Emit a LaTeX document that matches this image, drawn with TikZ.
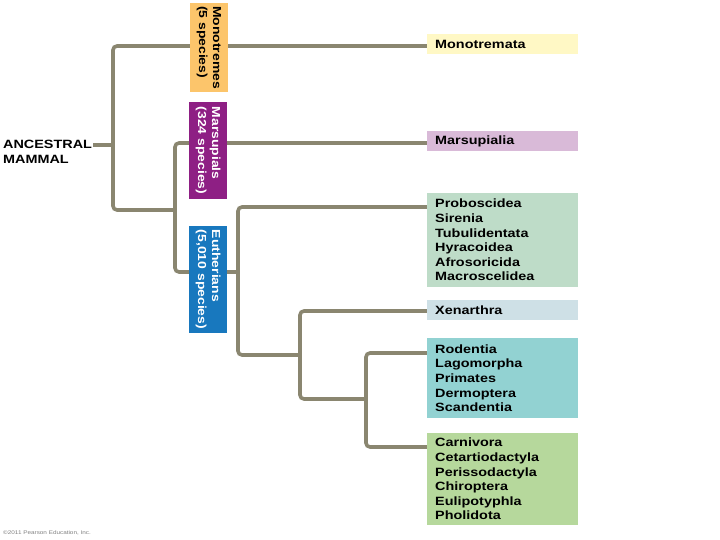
\documentclass[tikz,border=0pt]{standalone}
\usepackage{fontspec}
\setmainfont[FakeStretch=1.2]{Liberation Sans}
\usetikzlibrary{calc}
\pgfdeclarelayer{bg}
\pgfsetlayers{bg,main}
\definecolor{cLine}{HTML}{8A8670}
\definecolor{cMono}{HTML}{FCC56B}
\definecolor{cMonoL}{HTML}{FFF8C5}
\definecolor{cMars}{HTML}{8E1F84}
\definecolor{cMarsL}{HTML}{D9BAD8}
\definecolor{cEuth}{HTML}{1878BE}
\definecolor{cProb}{HTML}{BEDCC8}
\definecolor{cXen}{HTML}{CEE0E6}
\definecolor{cRod}{HTML}{92D2D2}
\definecolor{cCarn}{HTML}{B6D89C}
\begin{document}
\begin{tikzpicture}[x=1pt,y=-1pt,
  lbl/.style={font=\bfseries\fontsize{12}{14.6}\selectfont},
  box/.style={lbl, anchor=north west, minimum width=151pt, text width=135pt,
    align=left, inner xsep=8pt, inner ysep=0pt},
  grp/.style={font=\bfseries\fontsize{11.6}{14}\selectfont, rotate=-90,
    minimum height=38pt, align=left, inner xsep=3pt, inner ysep=0pt},
  tree/.style={draw=cLine, line width=3.6pt, rounded corners=4pt}]
\useasboundingbox (0,0) rectangle (720,540);

% terminal boxes
\node[box, fill=cMonoL, minimum height=20pt] (mono) at (427,34) {Monotremata};
\node[box, fill=cMarsL, minimum height=20pt] (mars) at (427,131) {Marsupialia};
\node[box, fill=cProb, minimum height=94pt] (prob) at (427,193)
  {Proboscidea\\Sirenia\\Tubulidentata\\Hyracoidea\\Afrosoricida\\Macroscelidea};
\node[box, fill=cXen, minimum height=20pt] (xen) at (427,300) {Xenarthra};
\node[box, fill=cRod, minimum height=80pt] (rod) at (427,338)
  {Rodentia\\Lagomorpha\\Primates\\Dermoptera\\Scandentia};
\node[box, fill=cCarn, minimum height=92pt] (carn) at (427,433)
  {Carnivora\\Cetartiodactyla\\Perissodactyla\\Chiroptera\\Eulipotyphla\\Pholidota};

% group labels
\node[grp, fill=cMono, text=black, minimum width=89pt] (monotremes) at (209,47.5)
  {Monotremes\\(5 species)};
\node[grp, fill=cMars, text=white, minimum width=97pt] (marsupials) at (208,150.5)
  {Marsupials\\(324 species)};
\node[grp, fill=cEuth, text=white, minimum width=107pt] (eutherians) at (208,279.5)
  {Eutherians\\(5,010 species)};

% root label
\node[lbl, anchor=north west, align=left, inner sep=0pt] (anc) at (3,140.4)
  {ANCESTRAL\\MAMMAL};

% copyright
\node[anchor=base west, inner sep=0pt, text=gray, font=\fontsize{5.3}{6}\selectfont]
  (copy) at (3,534) {\textcopyright 2011 Pearson Education, Inc.};

% junctions
\coordinate (a0) at ($(anc.north east)+(1,4.6)$);
\coordinate (j1) at (113,210);
\coordinate (j2) at (175,210);
\coordinate (j3) at (175,272);
\coordinate (j4) at (238,272);
\coordinate (j5) at (238,355);
\coordinate (j6) at (300,355);
\coordinate (j7) at (300,399);
\coordinate (j8) at (366,399);
\coordinate (j9) at (366,447);

% tree (behind the labels)
\begin{pgfonlayer}{bg}
\draw[tree] (a0) -- (a0 -| j1);
\draw[tree] ([yshift=-12pt]mono.north west) -| (j1) -- (j2);
\draw[tree] ([yshift=-12pt]mars.north west) -| (j3) -- (j4);
\draw[tree] ([yshift=-14pt]prob.north west) -| (j5) -- (j6);
\draw[tree] ([yshift=-11pt]xen.north west) -| (j7) -- (j8);
\draw[tree] ([yshift=-15pt]rod.north west) -| (j9) -- ([yshift=-14pt]carn.north west);
\end{pgfonlayer}
\end{tikzpicture}
\end{document}
